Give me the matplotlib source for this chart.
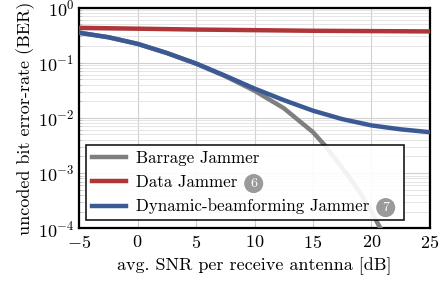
import matplotlib
matplotlib.use("Agg")
import matplotlib.pyplot as plt
from matplotlib.ticker import LogLocator, NullFormatter

plt.rcParams['font.family'] = 'serif'
plt.rcParams['font.serif'] = ['cmr10', 'DejaVu Serif']
plt.rcParams['mathtext.fontset'] = 'cm'
plt.rcParams['axes.formatter.use_mathtext'] = True

# ---------------- data ----------------
snr_blue = [-5, -2.5, 0, 2.5, 5, 7.5, 10, 12.5, 15, 17.5, 20, 22.5, 25]
ber_blue = [0.35, 0.29, 0.22, 0.15, 0.097, 0.058, 0.034, 0.021, 0.0135, 0.0095, 0.0073, 0.0062, 0.0055]

snr_gray = [-5, -2.5, 0, 2.5, 5, 7.5, 10, 12.5, 15, 16, 17, 18, 19, 20, 21]
ber_gray = [0.35, 0.29, 0.22, 0.15, 0.096, 0.057, 0.031, 0.015, 0.0055, 0.0032, 0.0017,
            0.0009, 0.00045, 0.0002, 0.00008]

snr_red = [-5, 0, 5, 10, 15, 20, 25]
ber_red = [0.43, 0.415, 0.40, 0.39, 0.38, 0.375, 0.37]

labels = ["Barrage Jammer", "Data Jammer", "Dynamic-beamforming Jammer"]
badges = [None, "6", "7"]
xticks = [-5, 0, 5, 10, 15, 20, 25]

fig = plt.figure(figsize=(4.4, 2.82), dpi=100)
ax = fig.add_axes([0.18, 0.191, 0.797, 0.782])

l1, = ax.semilogy(snr_gray, ber_gray, color='#7f7f7f', lw=3.2, zorder=3)
l2, = ax.semilogy(snr_red, ber_red, color='#b03539', lw=3.2, zorder=3)
l3, = ax.semilogy(snr_blue, ber_blue, color='#3b5a95', lw=3.2, zorder=4)

ax.set_xlim(-5, 25)
ax.set_ylim(1e-4, 1)
ax.set_xticks(xticks)
ax.yaxis.set_major_locator(LogLocator(base=10, numticks=10))
ax.yaxis.set_minor_locator(LogLocator(base=10, subs=range(2, 10), numticks=20))
ax.yaxis.set_minor_formatter(NullFormatter())
ax.grid(True, which='major', color='#d0d0d0', lw=0.8)
ax.grid(True, which='minor', axis='y', color='#e0e0e0', lw=0.6)
ax.tick_params(direction='in', labelsize=13, length=3, width=0.6, color='#c0c0c0')
ax.tick_params(axis='x', pad=4)
ax.tick_params(which='minor', direction='in', length=2, color='#c0c0c0')
for s in ax.spines.values():
    s.set_linewidth(1.6)
    s.set_color('black')

ax.set_xlabel("avg. SNR per receive antenna [dB]", fontsize=13, labelpad=5)
ax.set_ylabel("uncoded bit error-rate (BER)", fontsize=13, labelpad=2)

# trailing spaces leave room for the circled numbers
leg_labels = [lab + ("     " if b else "") for lab, b in zip(labels, badges)]
leg = ax.legend([l1, l2, l3], leg_labels, loc='lower left', bbox_to_anchor=(0.02, 0.035),
                fontsize=12.2, fancybox=False, edgecolor='black', framealpha=0.9,
                handlelength=2.0, borderpad=0.35, labelspacing=0.5, borderaxespad=0,
                handletextpad=0.6)
leg.get_frame().set_linewidth(1.2)
leg.set_zorder(5)

# little circled numbers after the legend entries
fig.canvas.draw()
renderer = fig.canvas.get_renderer()
for txt, b in zip(leg.get_texts(), badges):
    if b is None:
        continue
    bb = txt.get_window_extent(renderer)
    x, y = fig.transFigure.inverted().transform((bb.x1 - 12, (bb.y0 + bb.y1) / 2 - 1))
    fig.text(x, y, b, fontsize=10, color='white', ha='center', va='center', zorder=10,
             bbox=dict(boxstyle='circle,pad=0.25', fc='#9a9a9a', ec='none'))

fig.savefig("out.png", dpi=100)
